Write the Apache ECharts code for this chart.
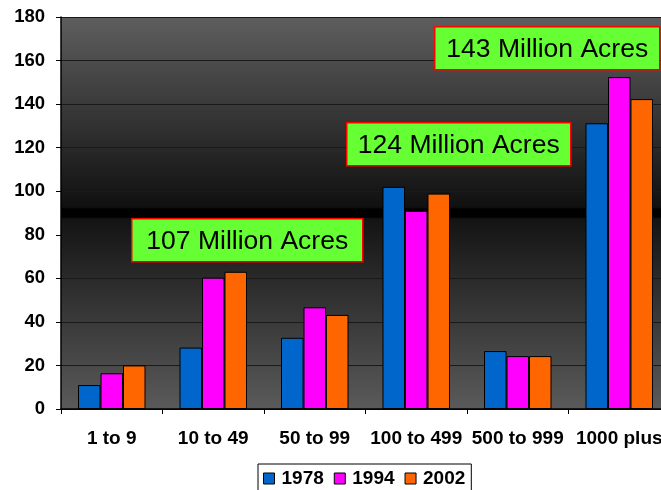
<!DOCTYPE html>
<html>
<head>
<meta charset="utf-8">
<script src="https://cdn.jsdelivr.net/npm/echarts@6/dist/echarts.min.js"></script>
<style>html,body{margin:0;padding:0;background:#fff;overflow:hidden;width:661px;height:490px}#c{width:670px;height:500px}</style>
</head>
<body>
<div id="c"></div>
<script>
const categories = ['1 to 9', '10 to 49', '50 to 99', '100 to 499', '500 to 999', '1000 plus'];
const yearNames = ['1978', '1994', '2002'];
const values1978 = [11, 28.2, 32.7, 102, 26.6, 131.2];
const values1994 = [16.4, 60.3, 46.7, 91, 24.3, 152.4];
const values2002 = [20, 63, 43.2, 98.9, 24.3, 142.3];
const seriesColors = ['#0066cc', '#ff00ff', '#ff6600'];
const yTicks = {min: 0, max: 180, interval: 20};
const annotations = ['107 Million Acres', '124 Million Acres', '143 Million Acres'];

const chart = echarts.init(document.getElementById('c'));
const FONT = 'Liberation Sans, Arial, sans-serif';
const allValues = [values1978, values1994, values2002];

function box(text, x, y, w, h) {
  return {
    type: 'group', left: x, top: y, z: 100,
    children: [
      {type: 'rect', z: 100, shape: {x: 0, y: 0, width: w, height: h},
       style: {fill: '#66ff33', stroke: '#ff0000', lineWidth: 1.5}},
      {type: 'text', z: 101, x: w / 2, y: h / 2 + 1,
       style: {text: text, fill: '#000', font: '26.5px ' + FONT, align: 'center', verticalAlign: 'middle'}}
    ]
  };
}

chart.setOption({
  animation: false,
  backgroundColor: '#fff',
  grid: {
    left: 61, right: 0, top: 17, bottom: 91, show: true, borderWidth: 0,
    backgroundColor: new echarts.graphic.LinearGradient(0, 0, 0, 1, [
      {offset: 0, color: '#5e5e5e'},
      {offset: 0.485, color: '#101010'},
      {offset: 0.49, color: '#000000'},
      {offset: 0.51, color: '#000000'},
      {offset: 0.515, color: '#141414'},
      {offset: 1, color: '#5a5a5a'}
    ])
  },
  legend: {
    data: yearNames, left: 258, top: 464,
    borderColor: '#000', borderWidth: 1, padding: [5, 6, 20, 5],
    itemWidth: 11, itemHeight: 11, itemGap: 10,
    icon: 'rect',
    itemStyle: {borderColor: '#000', borderWidth: 1},
    textStyle: {color: '#000', fontWeight: 'bold', fontSize: 19, fontFamily: FONT, padding: [0, 0, 0, 2]}
  },
  xAxis: {
    type: 'category', data: categories,
    axisLine: {show: true, lineStyle: {color: '#000', width: 1.5}},
    axisTick: {show: true, length: 5, lineStyle: {color: '#000'}},
    axisLabel: {interval: 0, margin: 20, color: '#000', fontWeight: 'bold', fontSize: 19, fontFamily: FONT},
    splitLine: {show: false}
  },
  yAxis: {
    type: 'value', min: yTicks.min, max: yTicks.max, interval: yTicks.interval,
    axisLine: {show: true, lineStyle: {color: '#000', width: 1.5}},
    axisTick: {show: true, length: 5, lineStyle: {color: '#000'}},
    axisLabel: {margin: 16, color: '#000', fontWeight: 'bold', fontSize: 18.5, fontFamily: FONT},
    splitLine: {show: true, lineStyle: {color: '#1a1a1a', width: 1.2}}
  },
  series: yearNames.map((n, i) => ({
    name: n, type: 'bar', data: allValues[i],
    barGap: '0%', barCategoryGap: '33.5%',
    itemStyle: {color: seriesColors[i], borderColor: '#000', borderWidth: 1}
  })),
  graphic: [
    box(annotations[0], 131, 218, 231, 43),
    box(annotations[1], 346, 122, 224, 43),
    box(annotations[2], 434, 26, 225, 43)
  ]
});
</script>
</body>
</html>
